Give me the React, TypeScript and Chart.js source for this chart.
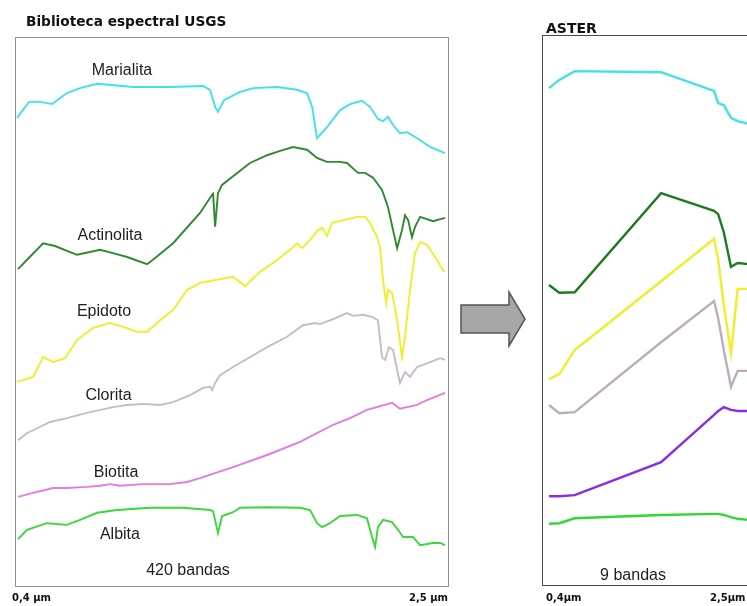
import React, { useEffect, useRef } from "react";
import { Chart, registerables } from "chart.js";

Chart.register(...registerables);

// ---------- Left panel: USGS spectral library (wavelength µm / offset reflectance) ----------
const marialitaWl = [0.4, 0.459, 0.513, 0.572, 0.645, 0.709, 0.793, 0.969, 1.151, 1.313, 1.347, 1.372, 1.386, 1.416, 1.494, 1.558, 1.676, 1.774, 1.823, 1.848, 1.872, 1.921, 1.985, 2.034, 2.093, 2.132, 2.171, 2.196, 2.22, 2.245, 2.279, 2.314, 2.363, 2.427, 2.5];
const marialitaVal = [85.3, 88.2, 88.2, 87.8, 89.8, 90.7, 91.5, 90.9, 90.9, 91.1, 90.4, 87.3, 86.4, 88.5, 90.0, 90.7, 90.9, 90.4, 89.8, 87.3, 81.6, 83.6, 86.7, 87.8, 88.4, 87.3, 85.1, 84.7, 85.5, 84.0, 82.5, 82.7, 81.6, 80.0, 78.9];

const actinolitaWl = [0.405, 0.449, 0.528, 0.586, 0.694, 0.758, 0.807, 0.871, 0.94, 1.038, 1.067, 1.166, 1.298, 1.357, 1.362, 1.372, 1.386, 1.406, 1.46, 1.543, 1.627, 1.691, 1.754, 1.823, 1.872, 1.921, 1.985, 2.019, 2.073, 2.108, 2.147, 2.191, 2.22, 2.245, 2.265, 2.289, 2.304, 2.319, 2.338, 2.353, 2.378, 2.441, 2.5];
const actinolitaVal = [57.8, 59.5, 62.5, 62.0, 60.4, 60.9, 61.3, 60.7, 60.0, 58.7, 59.5, 62.5, 68.0, 71.3, 71.5, 65.5, 71.6, 73.1, 74.7, 77.1, 78.5, 79.3, 80.0, 79.5, 78.0, 77.3, 77.3, 77.1, 75.3, 75.3, 74.4, 72.2, 69.1, 64.9, 61.6, 64.9, 67.6, 66.7, 63.6, 65.5, 67.3, 66.5, 67.1];

const epidotoWl = [0.4, 0.479, 0.528, 0.577, 0.636, 0.694, 0.773, 0.856, 0.92, 0.989, 1.038, 1.102, 1.166, 1.234, 1.298, 1.46, 1.519, 1.592, 1.656, 1.74, 1.774, 1.799, 1.838, 1.877, 1.897, 1.921, 1.946, 2.0, 2.068, 2.108, 2.132, 2.167, 2.181, 2.196, 2.211, 2.22, 2.24, 2.265, 2.289, 2.304, 2.328, 2.353, 2.378, 2.412, 2.451, 2.49, 2.5];
const epidotoVal = [37.3, 38.2, 41.8, 40.9, 41.6, 44.9, 47.1, 48.0, 47.3, 46.4, 46.4, 48.5, 50.4, 54.0, 55.3, 56.4, 54.7, 57.3, 58.9, 61.3, 62.5, 61.6, 63.1, 64.9, 65.3, 63.8, 66.2, 66.7, 67.3, 67.3, 66.2, 63.6, 61.8, 55.8, 51.6, 54.0, 53.5, 48.5, 41.8, 45.5, 54.0, 60.7, 62.7, 62.2, 60.0, 57.6, 57.3];

const cloritaWl = [0.405, 0.449, 0.479, 0.562, 0.645, 0.758, 0.871, 0.94, 1.018, 1.102, 1.166, 1.249, 1.313, 1.347, 1.357, 1.372, 1.396, 1.46, 1.627, 1.725, 1.803, 1.862, 1.887, 1.951, 2.019, 2.049, 2.098, 2.142, 2.171, 2.191, 2.206, 2.225, 2.245, 2.265, 2.279, 2.304, 2.328, 2.363, 2.427, 2.476, 2.5];
const cloritaVal = [26.7, 28.0, 28.5, 30.0, 30.7, 31.8, 32.7, 33.1, 33.3, 33.1, 33.6, 34.9, 36.2, 36.4, 35.8, 37.1, 38.5, 40.0, 43.6, 45.5, 47.6, 48.0, 47.8, 48.7, 49.8, 49.3, 49.5, 49.1, 48.5, 41.8, 41.3, 43.6, 43.1, 39.5, 37.1, 39.1, 38.2, 40.0, 40.9, 41.6, 41.3];

const biotitaWl = [0.405, 0.479, 0.577, 0.645, 0.743, 0.807, 0.856, 0.905, 1.018, 1.151, 1.234, 1.298, 1.46, 1.627, 1.789, 1.951, 2.034, 2.117, 2.24, 2.255, 2.279, 2.314, 2.363, 2.412, 2.5];
const biotitaVal = [16.4, 17.1, 18.0, 18.0, 18.2, 18.4, 18.7, 18.4, 18.7, 18.7, 19.1, 19.8, 21.8, 24.0, 26.4, 29.5, 30.7, 32.2, 33.5, 33.1, 32.4, 32.7, 33.1, 34.0, 35.3];

const albitaWl = [0.405, 0.449, 0.547, 0.645, 0.709, 0.793, 0.891, 1.053, 1.215, 1.347, 1.362, 1.386, 1.406, 1.46, 1.494, 1.627, 1.789, 1.838, 1.872, 1.897, 1.936, 1.985, 2.068, 2.117, 2.142, 2.157, 2.171, 2.196, 2.24, 2.27, 2.294, 2.343, 2.378, 2.441, 2.476, 2.5];
const albitaVal = [8.7, 10.4, 11.6, 11.3, 12.2, 13.5, 14.0, 14.4, 14.4, 14.0, 13.8, 9.8, 12.9, 13.6, 14.4, 14.5, 14.4, 14.0, 11.6, 10.9, 11.6, 12.9, 13.1, 12.5, 9.1, 7.3, 10.9, 12.2, 11.8, 10.4, 9.1, 9.1, 7.6, 8.0, 8.0, 7.6];

const mineralNames = ["Marialita", "Actinolita", "Epidoto", "Clorita", "Biotita", "Albita"];

// ---------- Right panel: ASTER resampled (band centres µm) ----------
const asterBands = [0.56, 0.66, 0.81, 1.65, 2.165, 2.205, 2.26, 2.33, 2.395, 2.5];
const asterMarialita = [90.7, 92.2, 93.8, 93.6, 90.2, 88.0, 87.6, 85.3, 84.7, 84.2];
const asterActinolita = [54.9, 53.5, 53.6, 71.6, 68.4, 67.8, 64.5, 58.2, 58.9, 58.7];
const asterEpidoto = [37.8, 38.7, 43.1, 55.6, 63.3, 59.6, 51.3, 42.5, 54.2, 54.2];
const asterClorita = [33.1, 31.6, 31.8, 44.5, 52.0, 48.9, 43.1, 36.4, 39.3, 39.3];
const asterBiotita = [16.5, 16.5, 16.7, 22.7, 31.3, 32.0, 32.7, 32.2, 32.0, 32.0];
const asterAlbita = [11.5, 11.6, 12.5, 13.1, 13.3, 13.3, 13.1, 12.7, 12.4, 12.2];

const pts = (xs: number[], ys: number[]) => xs.map((x, i) => ({ x, y: ys[i] }));

type Label = { text: string; x: number; y: number };
type Decor = {
  title: string;
  titleFont: string;
  titleDx: number;
  titleY: number;
  border: string;
  labels: Label[];
  axisLeft: string;
  axisLeftDx: number;
  axisRight: string;
  axisRightX: number;
  axisRightAlign: CanvasTextAlign;
};

const makeDecor = (d: Decor) => ({
  id: "panelDecor",
  afterDatasetsDraw(chart: any) {
    const { ctx, chartArea: a, scales } = chart;
    const xs = scales.x;
    const ys = scales.y;
    ctx.save();
    ctx.strokeStyle = d.border;
    ctx.lineWidth = 1;
    ctx.strokeRect(a.left + 0.5, a.top + 0.5, a.right - a.left - 1, a.bottom - a.top - 1);

    ctx.fillStyle = "#1e1e1e";
    ctx.font = '16px "Liberation Sans", Arial, sans-serif';
    ctx.textAlign = "center";
    ctx.textBaseline = "alphabetic";
    d.labels.forEach((l) => {
      ctx.fillText(l.text, xs.getPixelForValue(l.x), ys.getPixelForValue(l.y));
    });

    ctx.fillStyle = "#111";
    ctx.font = d.titleFont;
    ctx.textAlign = "left";
    ctx.fillText(d.title, a.left + d.titleDx, d.titleY);

    ctx.font = 'bold 10px "DejaVu Sans", sans-serif';
    ctx.textAlign = "left";
    ctx.fillText(d.axisLeft, a.left + d.axisLeftDx, 601);
    ctx.textAlign = d.axisRightAlign;
    ctx.fillText(d.axisRight, d.axisRightX, 601);
    ctx.restore();
  },
});

function Panel(props: {
  left: number;
  width: number;
  padding: { left: number; right: number; top: number; bottom: number };
  datasets: any[];
  xMin: number;
  xMax: number;
  yMin: number;
  yMax: number;
  decor: Decor;
}) {
  const ref = useRef<HTMLCanvasElement>(null);
  useEffect(() => {
    if (!ref.current) return;
    const chart = new Chart(ref.current, {
      type: "line",
      data: { datasets: props.datasets },
      options: {
        animation: false,
        responsive: false,
        devicePixelRatio: 1,
        layout: { padding: props.padding },
        plugins: { legend: { display: false }, tooltip: { enabled: false }, title: { display: false } },
        elements: { point: { radius: 0 }, line: { tension: 0 } },
        scales: {
          x: { type: "linear", min: props.xMin, max: props.xMax, display: false },
          y: { type: "linear", min: props.yMin, max: props.yMax, display: false },
        },
      },
      plugins: [makeDecor(props.decor)],
    });
    return () => chart.destroy();
  }, []);
  return (
    <canvas
      ref={ref}
      width={props.width}
      height={606}
      style={{ position: "absolute", left: props.left, top: 0, width: props.width, height: 606 }}
    />
  );
}

export default function App() {
  const lw = 1.9;
  const leftSets = [
    { data: pts(marialitaWl, marialitaVal), borderColor: "#3fe3e3", borderWidth: lw },
    { data: pts(actinolitaWl, actinolitaVal), borderColor: "#2f8a2f", borderWidth: lw },
    { data: pts(epidotoWl, epidotoVal), borderColor: "#eeee2a", borderWidth: lw },
    { data: pts(cloritaWl, cloritaVal), borderColor: "#c9b9c9", borderWidth: lw },
    { data: pts(biotitaWl, biotitaVal), borderColor: "#e47ae4", borderWidth: lw },
    { data: pts(albitaWl, albitaVal), borderColor: "#3ad83a", borderWidth: lw },
  ];
  const rw = 2.4;
  const rightSets = [
    { data: pts(asterBands, asterMarialita), borderColor: "#3fe3e3", borderWidth: rw },
    { data: pts(asterBands, asterActinolita), borderColor: "#1f7a1f", borderWidth: rw },
    { data: pts(asterBands, asterEpidoto), borderColor: "#eeee2a", borderWidth: rw },
    { data: pts(asterBands, asterClorita), borderColor: "#bcadbc", borderWidth: rw },
    { data: pts(asterBands, asterBiotita), borderColor: "#8a2be6", borderWidth: rw },
    { data: pts(asterBands, asterAlbita), borderColor: "#35d535", borderWidth: rw },
  ];
  const leftLabels: Label[] = [
    { text: mineralNames[0], x: 0.915, y: 93.1 },
    { text: mineralNames[1], x: 0.856, y: 63.1 },
    { text: mineralNames[2], x: 0.827, y: 49.3 },
    { text: mineralNames[3], x: 0.849, y: 34.0 },
    { text: mineralNames[4], x: 0.886, y: 20.0 },
    { text: mineralNames[5], x: 0.905, y: 8.7 },
    { text: "420 bandas", x: 1.239, y: 2.2 },
  ];
  const rightLabels: Label[] = [{ text: "9 bandas", x: 1.377, y: 1.27 }];

  return (
    <div
      style={{
        position: "absolute",
        left: 0,
        top: 0,
        width: 747,
        height: 606,
        overflow: "hidden",
        background: "#ffffff",
      }}
    >
      <Panel
        left={0}
        width={460}
        padding={{ left: 15, right: 11, top: 37, bottom: 19 }}
        datasets={leftSets}
        xMin={0.39}
        xMax={2.5196}
        yMin={0}
        yMax={100}
        decor={{
          title: "Biblioteca espectral USGS",
          titleFont: 'bold 13.7px "DejaVu Sans", sans-serif',
          titleDx: 11,
          titleY: 26,
          border: "#8f8f8f",
          labels: leftLabels,
          axisLeft: "0,4 µm",
          axisLeftDx: -3,
          axisRight: "2,5 µm",
          axisRightX: 448,
          axisRightAlign: "right",
        }}
      />
      <svg
        width={80}
        height={70}
        style={{ position: "absolute", left: 455, top: 285 }}
        viewBox="455 285 80 70"
      >
        <polygon
          points="461,305 509,305 509,292 525,319 509,346 509,333 461,333"
          fill="#a7a7a7"
          stroke="#555555"
          strokeWidth={1.5}
        />
      </svg>
      <Panel
        left={530}
        width={260}
        padding={{ left: 12, right: 30, top: 35, bottom: 20 }}
        datasets={rightSets}
        xMin={0.4919}
        xMax={2.6121}
        yMin={0.182}
        yMax={100.364}
        decor={{
          title: "ASTER",
          titleFont: 'bold 14px "DejaVu Sans", sans-serif',
          titleDx: 4,
          titleY: 33,
          border: "#4a4a4a",
          labels: rightLabels,
          axisLeft: "0,4µm",
          axisLeftDx: 4,
          axisRight: "2,5µm",
          axisRightX: 710 - 530,
          axisRightAlign: "left",
        }}
      />
    </div>
  );
}
